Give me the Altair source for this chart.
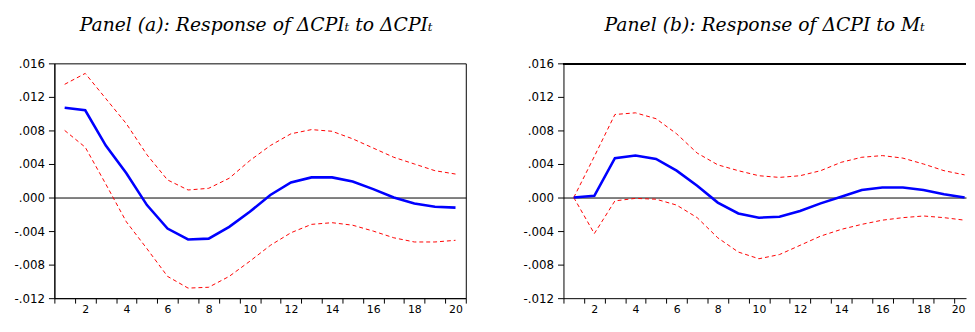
import altair as alt
import pandas as pd

periods = list(range(1, 21))

# Panel (a): response of dCPI to dCPI
a_irf = [0.0107, 0.0104, 0.0062, 0.0029, -0.0009, -0.0037, -0.0050, -0.0049, -0.0035, -0.0017,
         0.0003, 0.0018, 0.0024, 0.0024, 0.0019, 0.0010, 0.0000, -0.0007, -0.0011, -0.0012]
a_upper = [0.0135, 0.0148, 0.0118, 0.0088, 0.0051, 0.0021, 0.0009, 0.0011, 0.0023, 0.0044,
           0.0062, 0.0076, 0.0081, 0.0079, 0.0070, 0.0059, 0.0048, 0.0040, 0.0032, 0.0028]
a_lower = [0.0080, 0.0060, 0.0016, -0.0029, -0.0061, -0.0094, -0.0108, -0.0107, -0.0094, -0.0076,
           -0.0057, -0.0042, -0.0032, -0.0030, -0.0033, -0.0040, -0.0048, -0.0053, -0.0053, -0.0051]

# Panel (b): response of dCPI to M
b_irf = [0.0000, 0.0002, 0.0047, 0.0050, 0.0046, 0.0032, 0.0014, -0.0006, -0.0019, -0.0024,
         -0.0023, -0.0016, -0.0007, 0.0001, 0.0009, 0.0012, 0.0012, 0.0009, 0.0004, 0.0000]
b_upper = [0.0000, 0.0049, 0.0099, 0.0101, 0.0094, 0.0076, 0.0053, 0.0039, 0.0032, 0.0026,
           0.0024, 0.0026, 0.0032, 0.0042, 0.0048, 0.0050, 0.0047, 0.0040, 0.0032, 0.0027]
b_lower = [0.0000, -0.0043, -0.0004, -0.0001, -0.0002, -0.0009, -0.0024, -0.0048, -0.0065, -0.0073,
           -0.0068, -0.0057, -0.0046, -0.0038, -0.0032, -0.0027, -0.0024, -0.0022, -0.0024, -0.0027]

title_a = "Panel (a): Response of \u0394CPI\u209c to \u0394CPI\u209c"
title_b = "Panel (b): Response of \u0394CPI to M\u209c"

y_ticks = [-0.012, -0.008, -0.004, 0.0, 0.004, 0.008, 0.012, 0.016]

W_A = 417
W_B = 408
H = 238
STEP = W_A / 20.0

Y_SCALE = alt.Scale(domain=[-0.012, 0.016], nice=False, zero=False)


def y_axis():
    return alt.Axis(
        values=y_ticks,
        labelExpr="(datum.value < -1e-9 ? '-' : '') + replace(format(abs(datum.value), '.3f'), '0.', '.')",
        labelOverlap=False,
        labelFlush=False,
        tickSize=6,
        labelPadding=4,
        grid=True,
        gridColor={"condition": {"test": "abs(datum.value) < 1e-9", "value": "black"},
                   "value": "transparent"},
        gridWidth=1,
        gridOpacity=1,
        title=None,
        minExtent=40,
        maxExtent=40,
    )


def make_df(irf, up, lo):
    rows = []
    for name, vals in (("irf", irf), ("upper", up), ("lower", lo)):
        for p, v in zip(periods, vals):
            rows.append({"period": p, "value": v, "series": name})
    return pd.DataFrame(rows)


def panel(title, irf, up, lo, width, dx, framed):
    df = make_df(irf, up, lo)
    x_max = 0.5 + width / STEP
    ticks = [i + 0.5 for i in range(0, 21) if i + 0.5 <= x_max + 1e-6]
    last = ticks[-1]
    last_off = (width - 1) - (last - 0.5) * STEP
    x = alt.X(
        "period:Q",
        scale=alt.Scale(domain=[0.5, x_max], nice=False, zero=False),
        axis=alt.Axis(
            values=ticks,
            labelExpr="(datum.value + 0.5) % 2 == 0 && datum.value < 20 ? format(datum.value + 0.5, 'd') : ''",
            labelOffset={"condition": {"test": "datum.value > 20" if framed else f"datum.value == {last}",
                                       "value": 0 if framed else last_off},
                         "value": STEP / 2},
            labelAlign={"condition": {"test": "false" if framed else f"datum.value == {last}",
                                      "value": "right"},
                        "value": "center"},
            labelFlush=False,
            labelOverlap=False,
            labelFontSize=11,
            tickSize=5,
            labelPadding=1,
            grid=False,
            title=None,
        ),
    )
    y = alt.Y("value:Q", scale=Y_SCALE, axis=y_axis())
    base = alt.Chart(df)
    layers = []
    if not framed:
        layers.append(
            alt.Chart(df).mark_rule(color="black", strokeWidth=1).encode(y=alt.value(0.5))
        )
    layers.append(
        base.transform_filter("datum.series != 'irf'")
        .mark_line(color="#FF0000", strokeWidth=1, strokeDash=[4, 3], clip=True)
        .encode(x=x, y=y, detail="series:N")
    )
    layers.append(
        base.transform_filter("datum.series == 'irf'")
        .mark_line(color="#0000FF", strokeWidth=2.6, clip=True)
        .encode(x=x, y=y)
    )
    props = dict(
        width=width,
        height=H,
        title=alt.TitleParams(
            title,
            font="DejaVu Serif",
            fontStyle="italic",
            fontWeight="normal",
            fontSize=19,
            color="black",
            offset=23,
            dx=dx,
        ),
    )
    if not framed:
        props["view"] = alt.ViewBackground(stroke="transparent")
    return alt.layer(*layers).properties(**props)


pa = panel(title_a, a_irf, a_upper, a_lower, W_A, -4, True)
pb = panel(title_b, b_irf, b_upper, b_lower, W_B, 0, False)

chart = (
    alt.hconcat(pa, pb, spacing=56)
    .properties(padding={"left": 5, "top": 5, "right": 0, "bottom": 0})
    .configure_view(stroke="black", strokeWidth=1)
    .configure_axis(
        labelFont="DejaVu Sans",
        labelFontSize=12,
        labelColor="black",
        labelOverlap=False,
        domainColor="black",
        tickColor="black",
        domainWidth=1,
        tickWidth=1,
    )
)

chart.save("out.html", embed_options={"renderer": "svg", "actions": False})
